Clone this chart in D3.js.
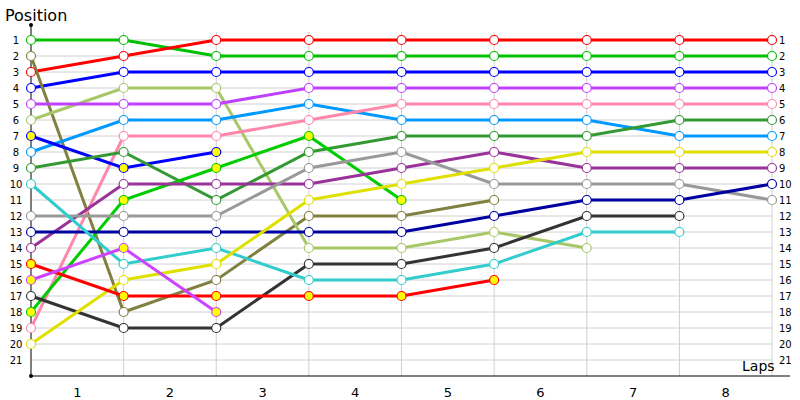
<!DOCTYPE html><html><head><meta charset="utf-8"><script src="https://cdn.jsdelivr.net/npm/d3@7"></script>
<style>body{margin:0;background:#fff}text{font-family:Tahoma,"DejaVu Sans",sans-serif}</style></head><body><svg id="c" width="800" height="400"></svg><script>
const laps=[1,2,3,4,5,6,7,8];
const positions=d3.range(1,22);
const colors=["#00c000","#ff0000","#0000ff","#808040","#a8c868","#c040ff","#0099ff","#ff88aa","#0000ff","#339933","#00cc00","#993399","#999999","#0000a0","#333333","#33cccc","#e0e000","#ff0000","#cc44ff"];
const values=[
[1,1,2,2,2,2,2,2,2],
[3,2,1,1,1,1,1,1,1],
[4,3,3,3,3,3,3,3,3],
[2,18,16,12,12,11],
[6,4,4,14,14,13,14],
[5,5,5,4,4,4,4,4,4],
[8,6,6,5,6,6,6,7,7],
[19,7,7,6,5,5,5,5,5],
[7,9,8],
[9,8,11,8,7,7,7,6,6],
[18,11,9,7,11],
[14,10,10,10,9,8,9,9,9],
[12,12,12,9,8,10,10,10,11],
[13,13,13,13,13,12,11,11,10],
[17,19,19,15,15,14,12,12],
[10,15,14,16,16,15,13,13],
[20,16,15,11,10,9,8,8,8],
[15,17,17,17,17,16],
[16,14,18]];
const retired=[8,10,17,18];
const svg=d3.select("#c");
const x=d3.scaleLinear().domain([0,8]).range([31,772]);
const y=d3.scaleLinear().domain([1,21]).range([40,360]);
const g=svg.append("g");
g.selectAll(".h").data(positions).join("line").attr("x1",31).attr("x2",772).attr("y1",d=>y(d)).attr("y2",d=>y(d)).attr("stroke","#d0d0d0");
g.selectAll(".v").data(d3.range(1,9)).join("line").attr("x1",d=>x(d)).attr("x2",d=>x(d)).attr("y1",y(1)-8).attr("y2",y(22)).attr("stroke","#d0d0d0");
svg.append("line").attr("x1",31).attr("x2",31).attr("y1",25).attr("y2",y(22)).attr("stroke","#000");
svg.append("line").attr("x1",31).attr("x2",790).attr("y1",y(22)).attr("y2",y(22)).attr("stroke","#000");
svg.append("circle").attr("cx",31).attr("cy",25).attr("r",2);
svg.append("circle").attr("cx",31).attr("cy",y(22)).attr("r",2);
svg.selectAll(".ly").data(positions).join("text").attr("x",16).attr("y",d=>y(d)+4).attr("text-anchor","middle").attr("font-size",10).text(d=>d);
svg.selectAll(".ry").data(positions).join("text").attr("x",779).attr("y",d=>y(d)+4).attr("font-size",10).text(d=>d);
svg.selectAll(".lx").data(laps).join("text").attr("x",d=>x(d-0.5)).attr("y",397).attr("text-anchor","middle").attr("font-size",13).text(d=>d);
svg.append("text").attr("x",5).attr("y",21).attr("font-size",16).text("Position");
svg.append("text").attr("x",742).attr("y",371).attr("font-size",14).text("Laps");
const line=d3.line().x((d,i)=>x(i)).y(d=>y(d));
values.forEach((v,k)=>{
  svg.append("path").attr("d",line(v)).attr("fill","none").attr("stroke",colors[k]).attr("stroke-width",3);
});
values.forEach((v,k)=>{
  svg.selectAll(null).data(v).join("circle").attr("cx",(d,i)=>x(i)).attr("cy",d=>y(d)).attr("r",4.5)
   .attr("fill",retired.includes(k)?"#ffff00":"#fff").attr("stroke",colors[k]).attr("stroke-width",1.2);
});
</script></body></html>
